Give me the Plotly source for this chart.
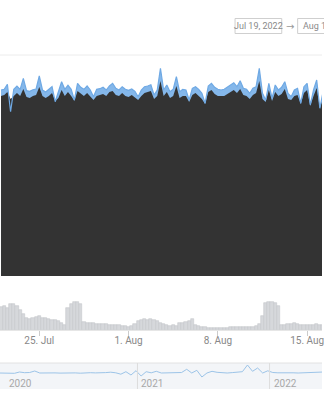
import pandas as pd
import plotly.graph_objects as go

# ---------------- data ----------------
main_start = "2022-07-22 00:00"
price = [186.0, 186.7, 191.7, 164.3, 186.7, 190.0, 186.7, 197.7, 185.3, 184.7,
         186.3, 187.0, 200.0, 186.0, 184.0, 186.7, 189.3, 174.3, 184.7, 194.3,
         186.7, 190.7, 186.7, 176.0, 192.7, 188.7, 186.7, 190.0, 186.0, 179.3,
         186.7, 187.3, 188.7, 186.0, 190.0, 192.7, 187.7, 186.0, 189.3, 186.7,
         185.7, 187.0, 184.7, 179.3, 186.0, 189.3, 190.0, 191.3, 181.0, 186.0,
         207.7, 186.0, 191.0, 184.3, 186.7, 199.3, 184.3, 186.7, 186.0, 176.0,
         187.7, 189.3, 186.7, 182.7, 172.7, 190.0, 192.7, 188.7, 186.7, 186.0,
         186.7, 188.7, 191.0, 193.3, 189.3, 195.3, 187.7, 186.7, 182.7, 187.7,
         189.3, 207.7, 182.7, 176.0, 192.7, 177.7, 191.0, 186.0, 188.7, 194.3,
         182.7, 179.3, 186.0, 187.7, 172.7, 189.3, 192.7, 171.0, 186.0, 196.0,
         167.7, 184.3]
base = [180, 181, 184, 177, 180, 183, 180, 187, 179, 178,
        180, 181, 189, 180, 178, 180, 183, 175, 178, 186,
        180, 184, 180, 175, 185, 182, 180, 183, 180, 176,
        180, 181, 182, 180, 184, 185, 181, 180, 183, 180,
        179, 181, 178, 176, 180, 183, 184, 185, 177, 180,
        195, 180, 184, 178, 180, 190, 178, 180, 180, 174,
        181, 183, 180, 177, 172, 184, 186, 182, 180, 180,
        180, 182, 184, 186, 183, 187, 181, 180, 177, 181,
        183, 195, 177, 174, 186, 175, 184, 180, 182, 187,
        177, 176, 180, 181, 172, 183, 186, 170, 180, 188,
        168, 178]
volume = [23, 24, 22, 26, 26, 24, 20, 16, 12, 11,
          12, 13, 14, 12, 12, 11, 10, 10, 9, 7,
          5, 22, 26, 28, 28, 26, 8, 7, 7, 7,
          6, 6, 6, 6, 5, 5, 5, 5, 4, 4,
          3, 4, 6, 9, 10, 11, 10, 11, 10, 9,
          7, 6, 5, 4, 5, 4, 7, 7, 8, 9,
          11, 5, 4, 3, 3, 2, 2, 2, 2, 2,
          2, 2, 3, 3, 3, 3, 3, 3, 3, 3,
          4, 6, 14, 27, 28, 28, 27, 24, 5, 5,
          6, 6, 7, 6, 5, 5, 5, 5, 5, 6,
          5, 5]
nav_start = "2019-12-16"
nav_values = [16, 16, 16.2, 15.7, 17, 16.3, 16.5, 18, 16, 16.2,
              15.8, 16.1, 15.9, 16.2, 16, 16.1, 15.8, 16.2, 16.3, 16.1,
              16, 16.4, 16.8, 16.2, 14.8, 17.3, 14, 18.3, 13, 17.3,
              16.2, 17.7, 16, 16.1, 15.9, 16.2, 16.5, 19.7, 16, 18.7,
              12, 16, 17.7, 16.7, 16.2, 16, 16.4, 16.7, 17.3, 24,
              17.7, 21, 16, 18.2, 16.5, 16.2, 16.4, 16.7, 16.2, 16,
              16.3, 16.7, 16.5, 16.8, 17]
tick_dates = ["2022-07-25", "2022-08-01", "2022-08-08", "2022-08-15"]
tick_labels = ["25. Jul", "1. Aug", "8. Aug", "15. Aug"]
year_marks = ["2020-01-01", "2021-01-01", "2022-01-01"]
year_labels = ["2020", "2021", "2022"]
range_from = "Jul 19, 2022"
range_to = "Aug 16, 2022"

main_x = pd.date_range(main_start, periods=len(price), freq="6h")
nav_x = pd.date_range(nav_start, periods=len(nav_values), freq="14D")

W, H = 324, 400
def py(p):
    return 1 - p / H
def px(p):
    return p / W

main_range = ["2022-07-21 22:05", "2022-08-16 04:00"]
nav_range = ["2019-12-18", "2022-05-26"]

fig = go.Figure()
fig.add_trace(go.Scatter(x=main_x, y=price, mode="lines", fill="tozeroy",
                         line=dict(color="#7fb4e8", width=0), fillcolor="#84b7ea",
                         xaxis="x", yaxis="y", hoverinfo="skip"))
fig.add_trace(go.Scatter(x=main_x, y=base, mode="lines", fill="tozeroy",
                         line=dict(color="#333333", width=0), fillcolor="#333333",
                         xaxis="x", yaxis="y", hoverinfo="skip"))
fig.add_trace(go.Scatter(x=main_x, y=price, mode="lines",
                         line=dict(color="#6fa9e4", width=1.2),
                         xaxis="x", yaxis="y", hoverinfo="skip"))
fig.add_trace(go.Bar(x=main_x, y=volume, width=6 * 3600 * 1000,
                     marker=dict(color="#d6d8db", line=dict(color="#c4c7cb", width=0.6)),
                     xaxis="x2", yaxis="y2", hoverinfo="skip"))
fig.add_trace(go.Scatter(x=nav_x, y=nav_values, mode="lines",
                         line=dict(color="#9cc4e8", width=1),
                         xaxis="x3", yaxis="y3", hoverinfo="skip"))

shapes = [
    dict(type="line", xref="paper", yref="paper", x0=0, x1=1, y0=py(55), y1=py(55),
         line=dict(color="#ececec", width=1)),
    dict(type="rect", xref="paper", yref="paper", x0=0, x1=1, y0=py(389), y1=py(363),
         fillcolor="#f3f5f8", line=dict(width=0), layer="below"),
    dict(type="line", xref="paper", yref="paper", x0=0, x1=1, y0=py(363), y1=py(363),
         line=dict(color="#e2e2e2", width=1)),
    dict(type="rect", xref="paper", yref="paper", x0=px(236.5), x1=px(283.5),
         y0=py(33.5), y1=py(18.5), line=dict(color="#cfcfcf", width=1)),
    dict(type="rect", xref="paper", yref="paper", x0=px(299.5), x1=px(345),
         y0=py(33.5), y1=py(18.5), line=dict(color="#cfcfcf", width=1)),
]
for d in year_marks[1:]:
    shapes.append(dict(type="line", xref="x3", yref="paper", x0=d, x1=d,
                       y0=py(389), y1=py(363), line=dict(color="#dddddd", width=1)))

annotations = [
    dict(text=range_from, xref="paper", yref="paper", x=px(260), y=py(26),
         xanchor="center", yanchor="middle",
         showarrow=False, font=dict(size=9, color="#8a8a8a")),
    dict(text="→", xref="paper", yref="paper", x=px(291.5), y=py(26.5),
         xanchor="center", yanchor="middle",
         showarrow=False, font=dict(size=10, color="#9a9a9a", family="DejaVu Sans")),
    dict(text=range_to, xref="paper", yref="paper", x=px(302.5), y=py(26),
         xanchor="left", yanchor="middle",
         showarrow=False, font=dict(size=9, color="#8a8a8a")),
]
for d, t in zip(year_marks, year_labels):
    annotations.append(dict(text=t, xref="x3", yref="paper", x=d, y=py(383.5),
                            xanchor="left", yanchor="middle", xshift=2, showarrow=False,
                            font=dict(size=10, color="#a8a8a8")))

fig.update_layout(
    width=W, height=H, margin=dict(l=0, r=0, t=0, b=0),
    paper_bgcolor="white", plot_bgcolor="rgba(0,0,0,0)",
    showlegend=False, bargap=0,
    font=dict(family="Roboto", size=10, color="#888"),
    xaxis=dict(domain=[0, 1], range=main_range, anchor="y", showticklabels=False,
               showgrid=False, zeroline=False, showline=False, ticks=""),
    yaxis=dict(domain=[py(276), py(55)], range=[0, 221], showticklabels=False,
               showgrid=False, zeroline=False),
    xaxis2=dict(domain=[0, 1], range=main_range, anchor="y2", tickvals=tick_dates,
                ticktext=tick_labels, ticks="outside", ticklen=5, tickcolor="#cccccc",
                ticklabeloverflow="allow", ticklabelstandoff=-4,
                showgrid=False, zeroline=False, showline=True, linecolor="#e6e6e6",
                tickfont=dict(size=10, color="#888888")),
    yaxis2=dict(domain=[py(330), py(298)], range=[0, 32], showticklabels=False,
                showgrid=False, zeroline=False),
    xaxis3=dict(domain=[0, 1], range=nav_range, anchor="y3", showticklabels=False,
                showgrid=False, zeroline=False, ticks=""),
    yaxis3=dict(domain=[py(389), py(363)], range=[0, 26], showticklabels=False,
                showgrid=False, zeroline=False),
    shapes=shapes, annotations=annotations,
)

fig.write_html("out.html")
